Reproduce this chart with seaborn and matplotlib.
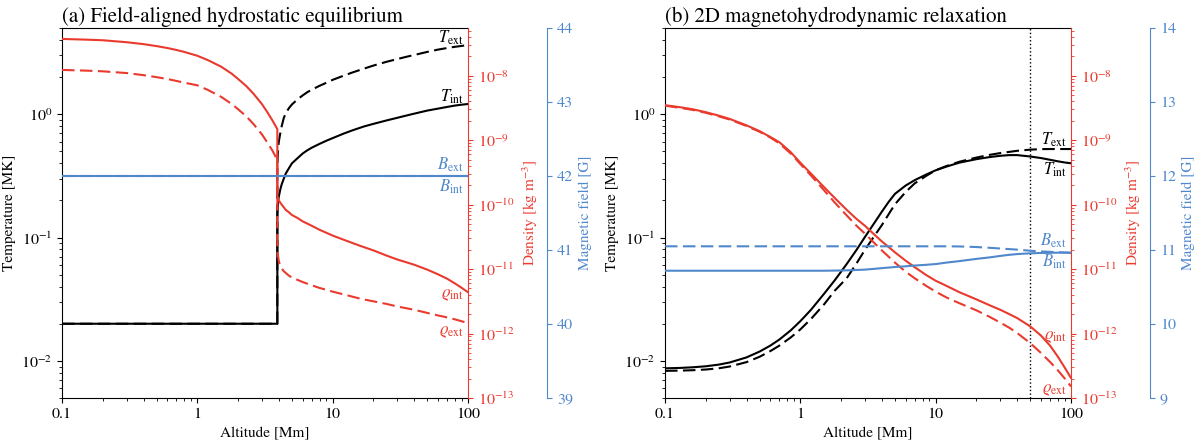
'''
Temperature, density and magnetic field profiles against altitude for the
field-aligned hydrostatic set-up and for the relaxed 2D MHD state.
'''

import seaborn as sns
import matplotlib.pyplot as plt
from matplotlib import ticker, transforms

RED = '#ea3a2e'
BLUE = '#5088cc'

# ---- panel (a): field-aligned hydrostatic equilibrium ----
alt_temp_a = [0.1, 3.9, 3.9, 3.92, 3.95, 4.0, 4.1, 4.2, 4.35, 4.5, 4.75, 5, 5.5, 6, 6.5,
              7, 8, 9, 10, 12, 14, 17, 20, 25, 30, 35, 40, 50, 60, 70, 80, 90, 100]
temp_int_a = [0.02, 0.02, 0.15, 0.175, 0.195, 0.215, 0.245, 0.27, 0.30, 0.33, 0.365,
              0.40, 0.44, 0.48, 0.51, 0.535, 0.575, 0.61, 0.64, 0.695, 0.74, 0.795,
              0.835, 0.89, 0.935, 0.975, 1.01, 1.07, 1.11, 1.145, 1.175, 1.195, 1.21]
temp_ext_a = [0.02, 0.02, 0.35, 0.44, 0.52, 0.60, 0.70, 0.80, 0.93, 1.02, 1.12, 1.2,
              1.32, 1.42, 1.51, 1.58, 1.70, 1.80, 1.9, 2.05, 2.18, 2.34, 2.48, 2.66,
              2.8, 2.92, 3.02, 3.2, 3.34, 3.44, 3.52, 3.58, 3.64]

alt_rho_a = [0.1, 0.15, 0.2, 0.3, 0.4, 0.5, 0.6, 0.7, 0.8, 1.0, 1.2, 1.5, 1.8, 2.0, 2.3,
             2.6, 3.0, 3.3, 3.6, 3.9, 3.9, 3.95, 4.0, 4.1, 4.2, 4.35, 4.5, 4.75, 5, 5.5,
             6, 7, 8, 10, 13, 16, 20, 25, 30, 40, 50, 60, 70, 80, 90, 100]
rho_int_a = [3.72e-8, 3.63e-8, 3.55e-8, 3.31e-8, 3.09e-8, 2.88e-8, 2.69e-8, 2.51e-8,
             2.34e-8, 2.04e-8, 1.74e-8, 1.38e-8, 1.07e-8, 8.9e-9, 6.9e-9, 5.25e-9,
             3.63e-9, 2.69e-9, 2.0e-9, 1.48e-9,
             1.38e-10, 1.26e-10, 1.17e-10, 1.07e-10, 1.0e-10, 9.1e-11, 8.3e-11, 7.6e-11,
             6.9e-11, 6.2e-11, 5.5e-11, 4.7e-11, 4.07e-11, 3.31e-11, 2.69e-11, 2.29e-11,
             1.95e-11, 1.62e-11, 1.41e-11, 1.17e-11, 9.8e-12, 8.3e-12, 7.1e-12, 6.0e-12,
             5.1e-12, 4.37e-12]
rho_ext_a = [1.23e-8, 1.20e-8, 1.17e-8, 1.10e-8, 1.02e-8, 9.5e-9, 8.9e-9, 8.3e-9,
             7.8e-9, 7.1e-9, 6.0e-9, 4.7e-9, 3.63e-9, 3.02e-9, 2.34e-9, 1.78e-9,
             1.23e-9, 9.1e-10, 6.8e-10, 4.9e-10,
             2.24e-11, 1.58e-11, 1.32e-11, 1.12e-11, 1.02e-11, 9.3e-12, 8.7e-12, 7.9e-12,
             7.4e-12, 6.8e-12, 6.3e-12, 5.6e-12, 5.1e-12, 4.47e-12, 3.89e-12, 3.47e-12,
             3.16e-12, 2.88e-12, 2.63e-12, 2.34e-12, 2.09e-12, 1.91e-12, 1.78e-12,
             1.66e-12, 1.55e-12, 1.45e-12]

alt_b_a = [0.1, 100]
b_int_a = [42, 42]
b_ext_a = [42, 42]

# ---- panel (b): 2D magnetohydrodynamic relaxation ----
alt_b = [0.1, 0.13, 0.16, 0.2, 0.25, 0.3, 0.4, 0.5, 0.6, 0.7, 0.85, 1.0, 1.2, 1.5, 1.8,
         2.2, 2.6, 3.0, 3.5, 4, 4.5, 5, 6, 7, 8.5, 10, 12, 15, 20, 25, 30, 35, 40, 50,
         60, 70, 80, 90, 100]
temp_int_b = [0.0087, 0.00877, 0.00887, 0.00904, 0.00933, 0.0097, 0.01067, 0.0119,
              0.0133, 0.0149, 0.0177, 0.0210, 0.0260, 0.0351, 0.0452, 0.061, 0.0794,
              0.101, 0.130, 0.162, 0.195, 0.226, 0.264, 0.292, 0.324, 0.351, 0.376,
              0.405, 0.432, 0.449, 0.460, 0.466, 0.466, 0.454, 0.441, 0.427, 0.415,
              0.406, 0.400]
temp_ext_b = [0.0083, 0.00834, 0.0084, 0.00851, 0.00871, 0.0090, 0.00977, 0.0108,
              0.0120, 0.0133, 0.0155, 0.0180, 0.0219, 0.0288, 0.0372, 0.0468, 0.0617,
              0.0794, 0.102, 0.126, 0.155, 0.186, 0.234, 0.275, 0.316, 0.351, 0.380,
              0.412, 0.445, 0.468, 0.484, 0.495, 0.505, 0.516, 0.521, 0.522, 0.522,
              0.522, 0.522]
rho_int_b = [3.49e-9, 3.24e-9, 3.02e-9, 2.72e-9, 2.40e-9, 2.14e-9, 1.70e-9, 1.38e-9,
             1.12e-9, 9.3e-10, 6.5e-10, 4.47e-10, 3.02e-10, 1.86e-10, 1.26e-10, 8.3e-11,
             6.0e-11, 4.7e-11, 3.47e-11, 2.69e-11, 2.19e-11, 1.82e-11, 1.35e-11,
             1.07e-11, 8.1e-12, 6.6e-12, 5.5e-12, 4.37e-12, 3.39e-12, 2.75e-12, 2.34e-12,
             2.0e-12, 1.74e-12, 1.29e-12, 9.3e-13, 6.5e-13, 4.37e-13, 2.95e-13, 2.04e-13]
rho_ext_b = [3.43e-9, 3.16e-9, 2.95e-9, 2.66e-9, 2.34e-9, 2.09e-9, 1.66e-9, 1.35e-9,
             1.10e-9, 8.9e-10, 6.2e-10, 4.27e-10, 2.82e-10, 1.66e-10, 1.07e-10, 6.8e-11,
             4.7e-11, 3.55e-11, 2.57e-11, 1.95e-11, 1.55e-11, 1.26e-11, 9.1e-12, 7.2e-12,
             5.5e-12, 4.47e-12, 3.63e-12, 2.95e-12, 2.29e-12, 1.82e-12, 1.48e-12,
             1.23e-12, 1.02e-12, 7.1e-13, 5.0e-13, 3.63e-13, 2.69e-13, 2.0e-13, 1.51e-13]
b_int_b = [10.72, 10.72, 10.72, 10.72, 10.72, 10.72, 10.72, 10.72, 10.72, 10.72, 10.72,
           10.72, 10.72, 10.72, 10.722, 10.725, 10.73, 10.735, 10.745, 10.755, 10.763,
           10.77, 10.78, 10.79, 10.80, 10.81, 10.83, 10.85, 10.88, 10.90, 10.92, 10.935,
           10.945, 10.955, 10.96, 10.962, 10.964, 10.965, 10.965]
b_ext_b = [11.05, 11.05, 11.05, 11.05, 11.05, 11.05, 11.05, 11.05, 11.05, 11.05, 11.05,
           11.05, 11.05, 11.05, 11.05, 11.05, 11.05, 11.05, 11.05, 11.05, 11.05, 11.05,
           11.05, 11.05, 11.05, 11.05, 11.05, 11.048, 11.04, 11.03, 11.02, 11.012,
           11.005, 10.99, 10.98, 10.975, 10.97, 10.965, 10.96]
relax_boundary_b = 50

DASH = (0, (6, 2.6))


def line(ax, x, y, color, dashed=False):
    '''Draw one profile as given, without aggregation or sorting.'''
    sns.lineplot(x=x, y=y, ax=ax, color=color, lw=1.5, estimator=None, sort=False,
                 linestyle=DASH if dashed else '-')


def draw_panel(ax, title, temp, rho, bfield, b_lim, label_pos):
    '''
    Draw one panel with temperature (left), density and magnetic field
    (two right-hand axes).
    temp, rho, bfield - tuples (altitude, internal, external)
    label_pos - y positions of the curve labels on their own axes
    '''
    ax_rho = ax.twinx()
    ax_mag = ax.twinx()
    ax_mag.spines['right'].set_position(('axes', 1.195))

    line(ax, temp[0], temp[2], 'black', dashed=True)
    line(ax, temp[0], temp[1], 'black')
    line(ax_rho, rho[0], rho[2], RED, dashed=True)
    line(ax_rho, rho[0], rho[1], RED)
    line(ax_mag, bfield[0], bfield[2], BLUE, dashed=True)
    line(ax_mag, bfield[0], bfield[1], BLUE)

    ax.set_xscale('log')
    ax.set_xlim(0.1, 100)
    ax.set_yscale('log')
    ax.set_ylim(0.005, 5)
    ax.xaxis.set_major_formatter(ticker.FuncFormatter(lambda v, pos: f'{v:g}'))
    ax.set_xlabel('Altitude [Mm]')
    ax.set_ylabel('Temperature [MK]')
    ax.set_title(title, loc='left', fontsize=15, pad=4)
    ax.spines['right'].set_visible(False)

    ax_rho.set_yscale('log')
    ax_rho.set_ylim(1e-13, 5.5e-8)
    ax_rho.set_ylabel(r'Density [kg m$^{-3}$]', color=RED)
    ax_rho.tick_params(axis='y', which='both', colors=RED)
    ax_rho.spines['right'].set_color(RED)

    ax_mag.set_ylim(*b_lim)
    ax_mag.yaxis.set_major_locator(ticker.MultipleLocator(1))
    ax_mag.set_ylabel('Magnetic field [G]', color=BLUE)
    ax_mag.tick_params(axis='y', colors=BLUE)
    ax_mag.spines['right'].set_color(BLUE)

    for twin in (ax_rho, ax_mag):
        for side in ('left', 'top', 'bottom'):
            twin.spines[side].set_visible(False)

    texts = [(ax, r'$T_{\rm ext}$', 'black'), (ax, r'$T_{\rm int}$', 'black'),
             (ax_mag, r'$B_{\rm ext}$', BLUE), (ax_mag, r'$B_{\rm int}$', BLUE),
             (ax_rho, r'$\varrho_{\rm int}$', RED), (ax_rho, r'$\varrho_{\rm ext}$', RED)]
    for (target, text, color), ypos in zip(texts, label_pos):
        trans = transforms.blended_transform_factory(ax.transAxes, target.transData)
        ax.text(0.99, ypos, text, color=color, transform=trans, ha='right',
                va='center', fontsize=12)
    return ax_rho, ax_mag


if __name__ == '__main__':
    sns.set_style('ticks', {'axes.edgecolor': 'black', 'text.color': 'black',
                            'axes.labelcolor': 'black', 'xtick.color': 'black',
                            'ytick.color': 'black'})
    plt.rcParams['font.family'] = ['STIXGeneral', 'DejaVu Serif']
    plt.rcParams['mathtext.fontset'] = 'stix'
    plt.rcParams['font.size'] = 11
    plt.rcParams['xtick.labelsize'] = 11.5
    plt.rcParams['ytick.labelsize'] = 11.5

    fig = plt.figure(figsize=(12, 4.48), dpi=100)
    ax_a = fig.add_axes([0.0517, 0.1116, 0.3383, 0.8259])
    ax_b = fig.add_axes([0.5542, 0.1116, 0.3383, 0.8259])

    draw_panel(ax_a, '(a) Field-aligned hydrostatic equilibrium',
               (alt_temp_a, temp_int_a, temp_ext_a),
               (alt_rho_a, rho_int_a, rho_ext_a),
               (alt_b_a, b_int_a, b_ext_a), (39, 44),
               [4.15, 1.39, 42.15, 41.86, 3.9e-12, 1.07e-12])

    draw_panel(ax_b, '(b) 2D magnetohydrodynamic relaxation',
               (alt_b, temp_int_b, temp_ext_b),
               (alt_b, rho_int_b, rho_ext_b),
               (alt_b, b_int_b, b_ext_b), (9, 14),
               [0.62, 0.352, 11.13, 10.84, 8.7e-13, 1.32e-13])
    ax_b.axvline(relax_boundary_b, color='black', ls=':', lw=1)

    fig.savefig('out.png', dpi=100)
